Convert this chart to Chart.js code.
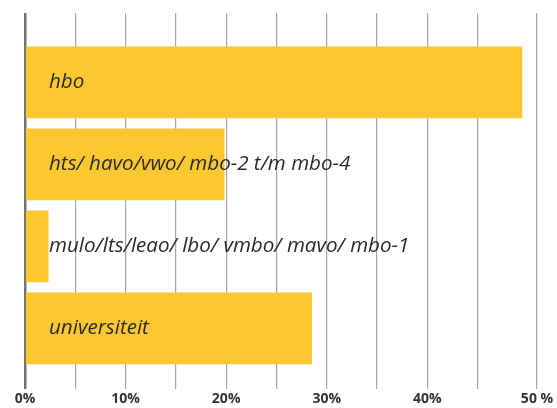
<!DOCTYPE html>
<html>
<head>
<meta charset="utf-8">
<script src="https://cdn.jsdelivr.net/npm/chart.js@4"></script>
<style>
  html, body { margin: 0; padding: 0; background: #fff; }
  #wrap { width: 557px; height: 408px; }
</style>
</head>
<body>
<div id="wrap"><canvas id="chart"></canvas></div>
<script>
// data
var categories = ['hbo', 'hts/ havo/vwo/ mbo-2 t/m mbo-4', 'mulo/lts/leao/ lbo/ vmbo/ mavo/ mbo-1', 'universiteit'];
var shares = [49.4, 19.8, 2.3, 28.5];
var tickValues = [0, 5, 10, 15, 20, 25, 30, 35, 40, 45, 50.9];
var tickLabels = ['0%', '', '10%', '', '20%', '', '30%', '', '40%', '', '50 %'];

// write the category name inside each bar
var barLabels = {
  id: 'barLabels',
  afterDatasetsDraw: function(chart) {
    var ctx = chart.ctx;
    var meta = chart.getDatasetMeta(0);
    ctx.save();
    ctx.font = 'italic 20.6px "Open Sans"';
    ctx.fillStyle = '#2a2a2a';
    ctx.textAlign = 'left';
    ctx.textBaseline = 'middle';
    meta.data.forEach(function(bar, i) {
      ctx.fillText(categories[i], chart.chartArea.left + 24, bar.y);
    });
    ctx.restore();
  }
};

var ctx = document.getElementById('chart').getContext('2d');
var myChart = new Chart(ctx, {
  type: 'bar',
  plugins: [barLabels],
  data: {
    datasets: [{
      data: shares.map(function(v, i) { return {x: v, y: i}; }),
      backgroundColor: '#fdc72f',
      borderWidth: 0,
      barThickness: 71
    }]
  },
  options: {
    indexAxis: 'y',
    responsive: true,
    maintainAspectRatio: false,
    animation: false,
    layout: { padding: { left: 25, right: 20, top: 13, bottom: 0 } },
    plugins: { legend: { display: false }, tooltip: { enabled: false } },
    scales: {
      x: {
        type: 'linear',
        min: 0,
        max: 50.9,
        z: 1,
        afterBuildTicks: function(axis) {
          axis.ticks = tickValues.map(function(v) { return {value: v}; });
        },
        ticks: {
          autoSkip: false,
          maxRotation: 0,
          padding: 1,
          color: '#333',
          font: { family: 'Open Sans', size: 14, weight: '700' },
          callback: function(value, index) { return tickLabels[index]; }
        },
        grid: {
          drawTicks: false,
          color: function(c) { return c.index === 0 ? 'rgba(0,0,0,0.55)' : 'rgba(0,0,0,0.35)'; },
          lineWidth: function(c) { return c.index === 0 ? 2.5 : 1.2; }
        },
        border: { display: false }
      },
      y: {
        type: 'linear',
        display: false,
        offset: false,
        reverse: true,
        min: -0.846,
        max: 3.742
      }
    }
  }
});
</script>
</body>
</html>
